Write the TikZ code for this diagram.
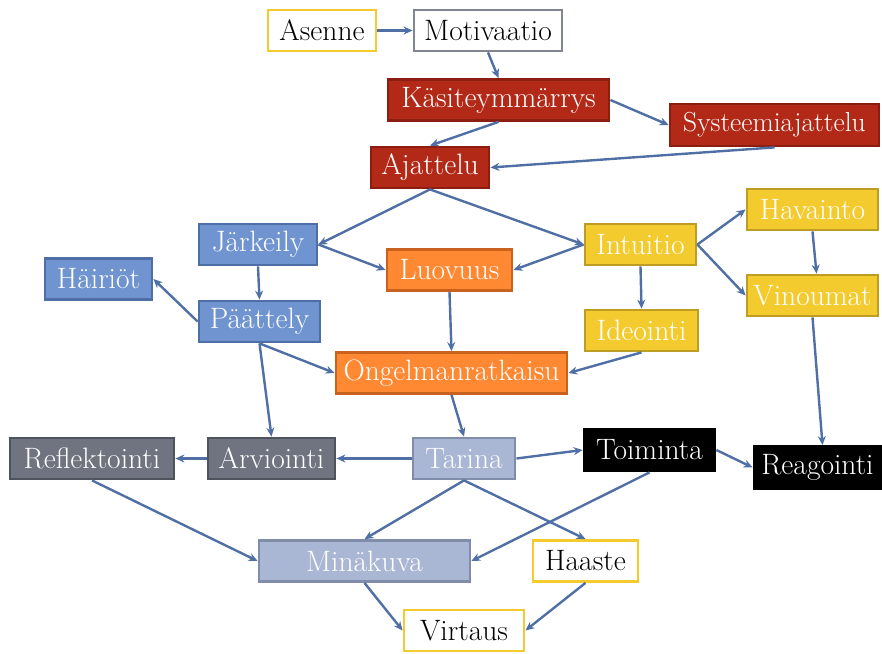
\documentclass[tikz,border=0pt]{standalone}
\usetikzlibrary{arrows.meta}
\definecolor{dred}{HTML}{B22A17}\definecolor{dredb}{HTML}{8B1E10}
\definecolor{cblue}{HTML}{7094D0}\definecolor{cblueb}{HTML}{4E6EA6}
\definecolor{corange}{HTML}{FF8833}\definecolor{corangeb}{HTML}{C9621E}
\definecolor{cyellow}{HTML}{F4CB2E}\definecolor{cyellowb}{HTML}{BE9E22}
\definecolor{cgrey}{HTML}{6F7480}\definecolor{cgreyb}{HTML}{4F535C}
\definecolor{clight}{HTML}{A9B6D4}\definecolor{clightb}{HTML}{7F8CAA}
\definecolor{cgreyline}{HTML}{808590}
\definecolor{arr}{HTML}{4F6FA5}
\begin{document}
\begin{tikzpicture}[x=1pt,y=-1pt,
  box/.style={rectangle,line width=2.8pt,inner sep=0pt,minimum height=41pt,
    font=\fontsize{29.5}{34}\selectfont,text=white},
  redbox/.style={box,fill=dred,draw=dredb},
  bluebox/.style={box,fill=cblue,draw=cblueb},
  orbox/.style={box,fill=corange,draw=corangeb},
  yelbox/.style={box,fill=cyellow,draw=cyellowb},
  greybox/.style={box,fill=cgrey,draw=cgreyb},
  lightbox/.style={box,fill=clight,draw=clightb},
  blackbox/.style={box,fill=black,draw=black},
  wyel/.style={box,fill=white,draw=cyellow,text=black},
  wgrey/.style={box,fill=white,draw=cgreyline,text=black},
  ar/.style={draw=arr,line width=2.4pt,-{Stealth[length=9pt,width=8pt]}}]
\useasboundingbox (0,0) rectangle (882,653);
\node[wyel,minimum width=108pt] (ase) at (322,30.5) {Asenne};
\node[wgrey,minimum width=148pt] (mot) at (488,30.5) {Motivaatio};
\node[redbox,minimum width=221pt] (kas) at (498.5,100) {Käsiteymmärrys};
\node[redbox,minimum width=209pt,minimum height=42pt,font=\fontsize{27.5}{32}\selectfont] (sys) at (774.5,125) {Systeemiajattelu};
\node[redbox,minimum width=118pt] (aja) at (430,167.5) {Ajattelu};
\node[bluebox,minimum width=118pt] (jar) at (258,244.5) {Järkeily};
\node[bluebox,minimum width=107pt] (hai) at (98.5,279) {Häiriöt};
\node[bluebox,minimum width=121pt] (paa) at (259.5,321.5) {Päättely};
\node[orbox,minimum width=125pt] (luo) at (449.5,270) {Luovuus};
\node[yelbox,minimum width=111pt] (int) at (640.5,244.5) {Intuitio};
\node[yelbox,minimum width=131pt] (hav) at (812.5,209.5) {Havainto};
\node[yelbox,minimum width=131pt] (vin) at (812.5,295.5) {Vinoumat};
\node[yelbox,minimum width=113pt] (ide) at (641.5,330.5) {Ideointi};
\node[orbox,minimum width=231pt] (ong) at (451.5,373) {Ongelmanratkaisu};
\node[greybox,minimum width=164pt] (ref) at (92,458.5) {Reflektointi};
\node[greybox,minimum width=127pt] (arv) at (271.5,458.5) {Arviointi};
\node[lightbox,minimum width=102pt] (tar) at (464,458.5) {Tarina};
\node[blackbox,minimum width=131pt,minimum height=42pt] (toi) at (649.5,450) {Toiminta};
\node[blackbox,minimum width=127pt,minimum height=42pt] (rea) at (817.5,467.5) {Reagointi};
\node[lightbox,minimum width=211pt] (min) at (364.5,561) {Minäkuva};
\node[wyel,minimum width=105pt] (haa) at (585.5,561) {Haaste};
\node[wyel,minimum width=120pt] (vir) at (464,630.5) {Virtaus};
% connectors
\draw[ar] (ase.east) -- (mot.west);
\draw[ar] (mot.south) -- (kas.north);
\draw[ar] (kas.south) -- (aja.north);
\draw[ar] (kas.east) -- (sys.west);
\draw[ar] (sys.south) -- (aja.east);
\draw[ar] (aja.south) -- (jar.east);
\draw[ar] (aja.south) -- (int.west);
\draw[ar] (jar.east) -- (luo.west);
\draw[ar] (int.west) -- (luo.east);
\draw[ar] (jar.south) -- (paa.north);
\draw[ar] (paa.west) -- (hai.east);
\draw[ar] (paa.south) -- (ong.west);
\draw[ar] (paa.south) -- (arv.north);
\draw[ar] (luo.south) -- (ong.north);
\draw[ar] (int.south) -- (ide.north);
\draw[ar] (ide.south) -- (ong.east);
\draw[ar] (int.east) -- (hav.west);
\draw[ar] (int.east) -- (vin.west);
\draw[ar] (hav.south) -- ([xshift=4pt]vin.north);
\draw[ar] (vin.south) -- ([xshift=5pt]rea.north);
\draw[ar] (ong.south) -- (tar.north);
\draw[ar] (tar.west) -- (arv.east);
\draw[ar] (arv.west) -- (ref.east);
\draw[ar] (tar.east) -- (toi.west);
\draw[ar] (toi.east) -- (rea.west);
\draw[ar] (tar.south) -- (min.north);
\draw[ar] (tar.south) -- (haa.north);
\draw[ar] (toi.south) -- (min.east);
\draw[ar] (ref.south) -- (min.west);
\draw[ar] (min.south) -- (vir.west);
\draw[ar] (haa.south) -- (vir.east);
\end{tikzpicture}
\end{document}
